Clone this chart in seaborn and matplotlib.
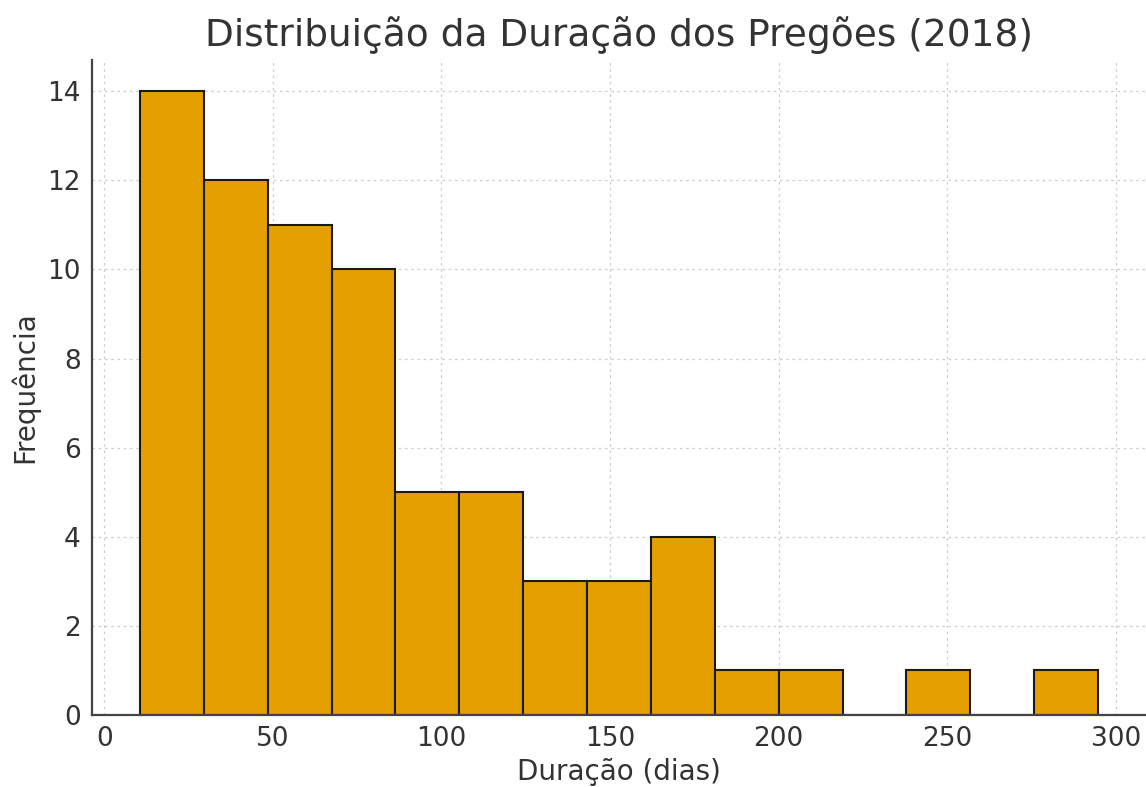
import numpy as np
import pandas as pd
import matplotlib
matplotlib.use("Agg")
import matplotlib.pyplot as plt
import seaborn as sns

# Data
bin_low = 10.6
bin_high = 294.7
counts = [14, 12, 11, 10, 5, 5, 3, 3, 4, 1, 1, 0, 1, 0, 1]
x_ticks = [0, 50, 100, 150, 200, 250, 300]
y_ticks = [0, 2, 4, 6, 8, 10, 12, 14]
title = "Distribuição da Duração dos Pregões (2018)"
xlabel = "Duração (dias)"
ylabel = "Frequência"

edges = np.linspace(bin_low, bin_high, len(counts) + 1)
centers = (edges[:-1] + edges[1:]) / 2
df = pd.DataFrame({"dur": centers, "n": counts})

sns.set_style("white")
plt.rcParams["font.family"] = ["DejaVu Sans"]

fig = plt.figure(figsize=(11.46, 7.87), dpi=100)
ax = fig.add_axes([92 / 1146, 72 / 787, (1146 - 92) / 1146, (715 - 60) / 787])

sns.histplot(data=df, x="dur", weights="n", bins=len(counts),
             binrange=(bin_low, bin_high), ax=ax,
             color="#E69F00", alpha=1.0, edgecolor="#1a1a1a", linewidth=1.5)

ax.set_xticks(x_ticks)
ax.set_yticks(y_ticks)
ax.grid(True, linestyle=(0, (2, 3)), color="#cccccc", linewidth=0.9)
ax.set_axisbelow(True)
for s in ["top", "right"]:
    ax.spines[s].set_visible(False)
for s in ["left", "bottom"]:
    ax.spines[s].set_color("#444444")
    ax.spines[s].set_linewidth(1.6)
ax.tick_params(axis="both", direction="in", length=5, width=1.2, colors="#444444",
               labelsize=19, labelcolor="#333333", pad=8)
ax.set_title(title, fontsize=27, color="#333333", pad=10)
ax.set_xlabel(xlabel, fontsize=20, color="#333333", labelpad=4)
ax.set_ylabel(ylabel, fontsize=20, color="#333333", labelpad=6)

fig.savefig("out.png", dpi=100)
